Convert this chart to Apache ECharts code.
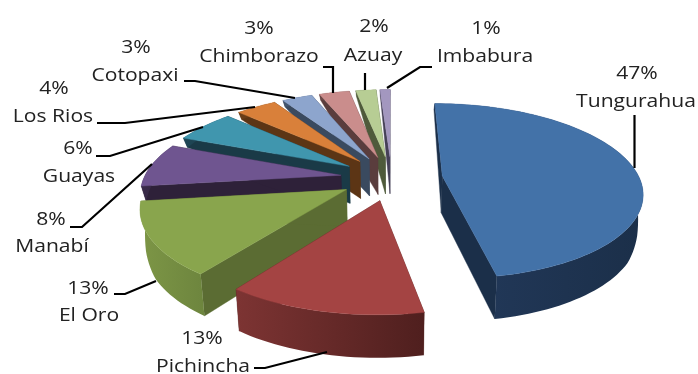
<!DOCTYPE html>
<html>
<head>
<meta charset="utf-8">
<style>html,body{margin:0;padding:0;background:#fff}#chart{width:698px;height:374px}</style>
<script src="https://cdn.jsdelivr.net/npm/echarts@6/dist/echarts.min.js"></script>
</head>
<body>
<div id="chart"></div>
<script>
// Share of total by province, clockwise from twelve o'clock.
const categories = ['Tungurahua', 'Pichincha', 'El Oro', 'Manabí', 'Guayas', 'Los Rios', 'Cotopaxi', 'Chimborazo', 'Azuay', 'Imbabura'];
const values = [47, 13, 13, 8, 6, 4, 3, 3, 2, 1];

const topColors = ['#4372a8', '#a44443', '#89a54d', '#6f5590', '#4096ae', '#d9803a', '#8da5cd', '#ca8d8c', '#b7cd94', '#a397bf'];
const faceColors = ['#1b2f49', '#52201f', '#5b6c33', '#2e2139', '#1a3a47', '#5c3515', '#3a4a5f', '#5a3d3d', '#4f5a3b', '#453f57'];
const wallFrom = ['#233a5c', '#7d3433', '#7d9646', '#3a2b4a', '#1f4756', '#6b3e18', '#445770', '#6a4847', '#5d6a45', '#524b68'];
const wallTo = ['#1b2f49', '#4f1f1e', '#6d853e', '#2e2139', '#1a3a47', '#5c3515', '#3a4a5f', '#5a3d3d', '#4f5a3b', '#453f57'];

// Label placement: centre of the percent line, centre of the name line, leader polyline.
const labelLayout = [
  { pct: [637, 74], name: [636, 102], line: [[634.5, 115], [634.5, 168]] },
  { pct: [202, 339], name: [203, 367], line: [[254, 368], [265, 368], [327, 352]] },
  { pct: [88, 289], name: [89, 316], line: [[114, 294], [125, 294], [156, 281]] },
  { pct: [51, 220], name: [52, 247], line: [[70, 227], [82, 227], [152, 164]] },
  { pct: [78, 149], name: [79, 177], line: [[96, 156], [110, 156], [203, 127]] },
  { pct: [54, 89], name: [53, 117], line: [[97, 123], [125, 123], [255, 107]] },
  { pct: [136, 48], name: [135, 76], line: [[184, 81], [195, 81], [295, 98]] },
  { pct: [259, 29], name: [259, 57], line: [[323, 67], [333, 67], [333, 93]] },
  { pct: [374, 27], name: [373, 56], line: [[365, 73], [365, 90]] },
  { pct: [486, 29], name: [485, 57], line: [[432, 67], [420, 67], [387, 88]] }
];

// Perspective view of the exploded disc.
const view = { x0: 391.5, y0: 178, a: 197, b: 85.5, k: 0.1725, explode: 0.26, lean: 0.02 };
const total = values.reduce((s, v) => s + v, 0);

function project(x, y) {
  const d = 1 - view.k * y;
  return [view.x0 + view.a * x / d, view.y0 + view.b * y / d];
}

// Wall height on the rim, growing toward the viewer.
const rimHeights = [[-1, 6], [-0.5, 8], [0.12, 15], [0.3, 32], [0.5, 40], [1, 43]];
function rimHeight(v) {
  for (let i = 1; i < rimHeights.length; i++) {
    if (v <= rimHeights[i][0]) {
      const p = rimHeights[i - 1], q = rimHeights[i];
      return p[1] + (q[1] - p[1]) * (v - p[0]) / (q[0] - p[0]);
    }
  }
  return 43;
}
const centreHeight = 37;

function sliceGeometry(index) {
  let before = 0;
  for (let i = 0; i < index; i++) before += values[i];
  const from = before / total * Math.PI * 2;
  const to = (before + values[index]) / total * Math.PI * 2;
  const mid = (from + to) / 2;
  const ox = view.explode * Math.sin(mid);
  const oy = -view.explode * Math.cos(mid);
  const top = (th, r) => project(ox + r * Math.sin(th), oy - r * Math.cos(th));
  const bottom = (th, r) => {
    const p = top(th, r);
    const h = centreHeight * (1 - r) + r * rimHeight(-Math.cos(th));
    return [p[0] - view.lean * (p[0] - view.x0), p[1] + h];
  };
  return { from, to, top, bottom };
}

function renderSlice(params, api) {
  const index = api.value(1);
  const g = sliceGeometry(index);
  const steps = Math.max(8, Math.round(values[index] * 2));
  const arcTop = [], arcBottom = [];
  for (let i = 0; i <= steps; i++) {
    const th = g.from + (g.to - g.from) * i / steps;
    arcTop.push(g.top(th, 1));
    arcBottom.push(g.bottom(th, 1));
  }
  const apexTop = g.top(g.from, 0);
  const apexBottom = g.bottom(g.from, 0);
  const poly = (points, fill) => ({
    type: 'polygon',
    shape: { points },
    style: { fill, stroke: typeof fill === 'string' ? fill : 'transparent', lineWidth: 0.4 }
  });
  const wallFill = new echarts.graphic.LinearGradient(0, 0, 1, 0, [
    { offset: 0, color: wallFrom[index] },
    { offset: 1, color: wallTo[index] }
  ]);
  return {
    type: 'group',
    children: [
      poly([apexTop, arcTop[0], arcBottom[0], apexBottom], faceColors[index]),
      poly([apexTop, arcTop[steps], arcBottom[steps], apexBottom], faceColors[index]),
      poly(arcTop.concat(arcBottom.slice().reverse()), wallFill),
      poly([apexTop].concat(arcTop), topColors[index])
    ]
  };
}

// Painted far side first so nearer slices overlap their neighbours.
const paintOrder = values.map((v, i) => i).reverse();
const sliceData = paintOrder.map(i => ({ name: categories[i], value: [values[i], i] }));

// The label face runs slightly wide, so the text is stretched along x.
const textStyle = { fontFamily: '"Open Sans"', fontSize: 19, fill: '#222', textAlign: 'center', textVerticalAlign: 'middle' };
const textWiden = 1.11;
const graphics = [];
categories.forEach((name, i) => {
  const l = labelLayout[i];
  graphics.push({
    type: 'polyline', z: 5, silent: true,
    shape: { points: l.line },
    style: { stroke: '#000', lineWidth: 2.2, fill: null }
  });
  graphics.push({ type: 'text', z: 6, x: l.pct[0], y: l.pct[1], scaleX: textWiden, style: Object.assign({ text: values[i] + '%' }, textStyle) });
  graphics.push({ type: 'text', z: 6, x: l.name[0], y: l.name[1], scaleX: textWiden, style: Object.assign({ text: name }, textStyle) });
});

const chart = echarts.init(document.getElementById('chart'), null, { renderer: 'canvas' });
chart.setOption({
  animation: false,
  backgroundColor: '#fff',
  graphic: graphics,
  series: [{
    type: 'custom',
    coordinateSystem: 'none',
    z: 2,
    silent: true,
    renderItem: renderSlice,
    dimensions: ['share', 'slice'],
    data: sliceData
  }]
});
</script>
</body>
</html>
